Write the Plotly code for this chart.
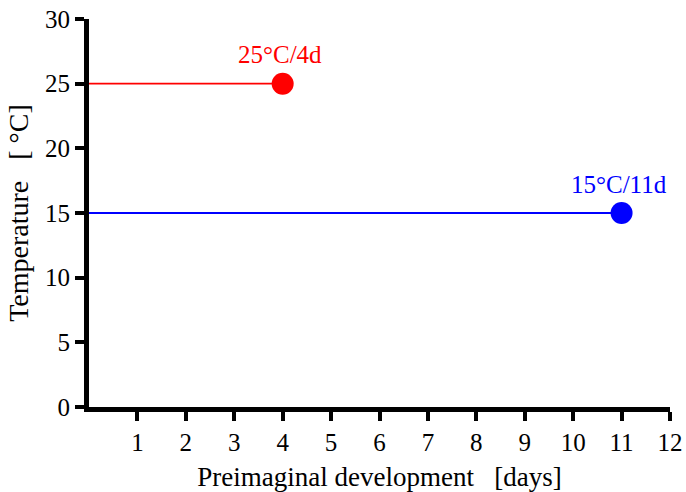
import plotly.graph_objects as go

temps = [25, 15]
days = [4, 11]
labels = ["25°C/4d", "15°C/11d"]
colors = ["#ff0000", "#0000ff"]
x_ticks = list(range(1, 13))
y_ticks = [0, 5, 10, 15, 20, 25, 30]

fig = go.Figure()
for t, d, lab, c in zip(temps, days, labels, colors):
    fig.add_trace(go.Scatter(x=[0, d], y=[t, t], mode="lines",
                             line=dict(color=c, width=1.8), showlegend=False))
    fig.add_trace(go.Scatter(x=[d], y=[t], mode="markers",
                             marker=dict(color=c, size=22, line=dict(width=0)),
                             showlegend=False))
    fig.add_annotation(x=d, y=t, text=lab, showarrow=False, yshift=29, xshift=-3,
                       font=dict(family="Liberation Serif", size=25, color=c))

tick_font = dict(family="Liberation Serif", size=25, color="black")
x_title_font = dict(family="Liberation Serif", size=27, color="black")
y_title_font = dict(family="Liberation Serif", size=28, color="black")
fig.update_layout(
    width=686, height=492,
    margin=dict(l=89, r=16, t=19, b=85),
    plot_bgcolor="white", paper_bgcolor="white",
    font=x_title_font,
    xaxis=dict(range=[0, 12], tickvals=x_ticks, ticktext=[str(v) for v in x_ticks],
               showgrid=False, zeroline=False, showline=True, linecolor="black",
               linewidth=5, ticks="outside", ticklen=9, tickwidth=4, tickcolor="black",
               automargin=False,
               title=dict(text="Preimaginal development&nbsp;&nbsp;&nbsp;[days]",
                          standoff=16, font=x_title_font),
               tickfont=tick_font),
    yaxis=dict(range=[0, 30], tickvals=y_ticks, ticktext=[str(v) for v in y_ticks],
               showgrid=False, zeroline=False, showline=True, linecolor="black",
               linewidth=5, ticks="outside", ticklen=9, tickwidth=4, tickcolor="black",
               automargin=False,
               title=dict(text="Temperature&nbsp;&nbsp;&nbsp;[&nbsp;°C]",
                          standoff=10, font=y_title_font),
               tickfont=tick_font),
)
fig.write_html("out.html")
